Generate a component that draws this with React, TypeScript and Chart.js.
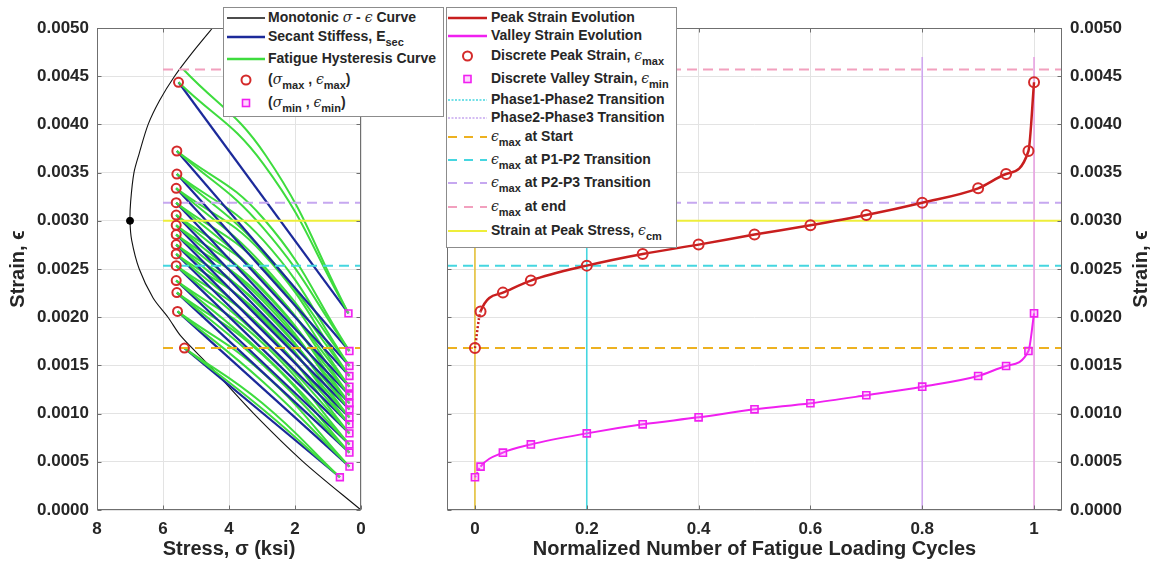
import React, { useEffect, useRef } from "react";
import { Chart, registerables } from "chart.js";
Chart.register(...registerables);

// ---------------- DATA ----------------
const cycleN = [0, 0.01, 0.05, 0.1, 0.2, 0.3, 0.4, 0.5, 0.6, 0.7, 0.8, 0.9, 0.95, 0.99, 1.0];
const peakStrain = [0.00168, 0.00206, 0.002255, 0.00238, 0.002535, 0.002656, 0.002753, 0.002857, 0.002953, 0.00306, 0.003188, 0.003337, 0.003485, 0.003724, 0.004437];
const valleyStrain = [0.00034, 0.00045, 0.000595, 0.00068, 0.000795, 0.000889, 0.000961, 0.001044, 0.001107, 0.00119, 0.001279, 0.00139, 0.001494, 0.001649, 0.00204];
const peakStress = [5.35, 5.56, 5.58, 5.6, 5.6, 5.6, 5.6, 5.6, 5.6, 5.6, 5.6, 5.6, 5.58, 5.58, 5.53];
const valleyStress = [0.64, 0.35, 0.35, 0.35, 0.35, 0.35, 0.35, 0.35, 0.35, 0.35, 0.35, 0.35, 0.35, 0.35, 0.38];
// strain offset of hysteresis branches above the secant chord, at mid-stress
const upperBulge = [0.0001, 0.00016, 0.00018, 0.0002, 0.00022, 0.00023, 0.00024, 0.00025, 0.00026, 0.00027, 0.00028, 0.0003, 0.00031, 0.00034, 0.00037];
const lowerBulge = [0.00004, 0.00007, 0.00008, 0.00009, 0.0001, 0.00011, 0.00012, 0.00013, 0.00014, 0.00015, 0.00016, 0.00018, 0.0002, 0.00024, 0.00035];

const monoStress = [0, 1.75, 3.25, 4.6, 5.45, 5.85, 6.3, 6.72, 6.95, 7.0, 6.98, 6.88, 6.72, 6.45, 6.1, 5.65, 5.1, 4.5, 4.2];
const monoStrain = [0, 0.0005, 0.001, 0.0015, 0.0018, 0.002, 0.0022, 0.0025, 0.0028, 0.003, 0.0032, 0.0035, 0.0037, 0.004, 0.00425, 0.0045, 0.00475, 0.005, 0.00512];

const fcPeak = 7.0;
const epsCm = 0.003;
const epsStart = 0.00168;
const epsP1P2 = 0.002535;
const epsP2P3 = 0.003188;
const epsEnd = 0.00457;
const endApexStress = 5.38;
const transP1P2 = 0.2;
const transP2P3 = 0.8;

const leftRefStress = [6, 0];
const rightRefN = [-0.05, 1.05];
const vertStrain = [0, 0.0047];

const yTickValues = [0, 0.0005, 0.001, 0.0015, 0.002, 0.0025, 0.003, 0.0035, 0.004, 0.0045, 0.005];
const leftXTickValues = [0, 2, 4, 6, 8];
const rightXTickValues = [0, 0.2, 0.4, 0.6, 0.8, 1];

// ---------------- STYLE ----------------
const FONT = '"Liberation Sans", Arial, Helvetica, sans-serif';
const TXT = "#262626";
const GRID = "#e3e3e3";
const RED_LINE = "#c81e1e";
const RED_MK = "#d42a2a";
const MAG = "#f020f0";
const BLUE = "#1c2a9a";
const GREEN = "#3edc3e";
const GOLD = "#edb120";
const CYAN = "#45d6e0";
const LAV = "#c6a8f0";
const PINK = "#f2a0be";
const YEL = "#eeee3a";
const DASH = [10, 6];

const tickFont = { family: FONT, size: 17, weight: "bold" as const };
const titleFont = { family: FONT, size: 20, weight: "bold" as const };

const framePlugin = (rightTitle?: string) => ({
  id: "frame",
  afterDraw(chart: any) {
    const { ctx, chartArea: a, scales } = chart;
    ctx.save();
    ctx.strokeStyle = "#6f6f6f";
    ctx.lineWidth = 1;
    const l = Math.round(a.left) + 0.5, t = Math.round(a.top) + 0.5;
    const r = Math.round(a.right) - 0.5, b = Math.round(a.bottom) - 0.5;
    ctx.strokeRect(l, t, r - l, b - t);
    const L = 4;
    ctx.beginPath();
    scales.y.ticks.forEach((tk: any) => {
      const y = Math.round(scales.y.getPixelForValue(tk.value)) + 0.5;
      ctx.moveTo(l, y); ctx.lineTo(l + L, y);
      ctx.moveTo(r, y); ctx.lineTo(r - L, y);
    });
    scales.x.ticks.forEach((tk: any) => {
      const x = Math.round(scales.x.getPixelForValue(tk.value)) + 0.5;
      ctx.moveTo(x, b); ctx.lineTo(x, b - L);
      ctx.moveTo(x, t); ctx.lineTo(x, t + L);
    });
    ctx.stroke();
    if (rightTitle) {
      ctx.fillStyle = TXT;
      ctx.font = `bold ${titleFont.size}px ${FONT}`;
      ctx.textAlign = "center";
      ctx.textBaseline = "middle";
      ctx.translate(chart.width - 13, (a.top + a.bottom) / 2);
      ctx.rotate(-Math.PI / 2);
      ctx.fillText(rightTitle, 0, 0);
    }
    ctx.restore();
  },
});

const yScale = (position: "left" | "right") => ({
  type: "linear",
  position,
  min: 0,
  max: 0.005,
  afterBuildTicks: (s: any) => { s.ticks = yTickValues.map((v) => ({ value: v })); },
  afterFit: (s: any) => { s.width = position === "left" ? 97 : 92; },
  grid: { color: GRID, drawTicks: false },
  border: { display: false },
  ticks: { font: tickFont, color: TXT, padding: 8, autoSkip: false, callback: (v: any) => Number(v).toFixed(4) },
  title: position === "left"
    ? { display: true, text: "Strain, ϵ", font: titleFont, color: TXT, padding: { top: 6, bottom: 0 } }
    : { display: false },
});

const xScale = (min: number, max: number, ticks: number[], title: string, reverse: boolean) => ({
  type: "linear",
  min,
  max,
  reverse,
  afterBuildTicks: (s: any) => { s.ticks = ticks.map((v) => ({ value: v })); },
  afterFit: (s: any) => { s.height = 54; },
  grid: { color: GRID, drawTicks: false },
  border: { display: false },
  ticks: { font: tickFont, color: TXT, padding: 9, maxRotation: 0, autoSkip: false, callback: (v: any) => String(Number(v)) },
  title: { display: true, text: title, font: titleFont, color: TXT, padding: { top: 0, bottom: 3 } },
});

const pts = (xs: number[], ys: number[]) => xs.map((x, i) => ({ x, y: ys[i] }));

const lineDs = (data: any[], color: string, width: number, order: number, extra: any = {}) => ({
  data, showLine: true, borderColor: color, borderWidth: width, pointRadius: 0, order, ...extra,
});

function buildLeft() {
  const ds: any[] = [];
  ds.push({
    data: pts(peakStress, peakStrain), showLine: false, pointStyle: "circle", pointRadius: 4.5,
    pointBorderWidth: 2, pointBorderColor: RED_MK, pointBackgroundColor: "rgba(0,0,0,0)", order: 0,
  });
  ds.push({
    data: pts(valleyStress, valleyStrain), showLine: false, pointStyle: "rect", pointRadius: 4.8,
    pointBorderWidth: 1.6, pointBorderColor: MAG, pointBackgroundColor: "rgba(255,120,255,0.25)", order: 0,
  });
  ds.push({
    data: [{ x: fcPeak, y: epsCm }], showLine: false, pointRadius: 3.5,
    pointBorderColor: "#000", pointBackgroundColor: "#000", order: 1,
  });
  const refs: [number, string, number[] | undefined][] = [
    [epsCm, YEL, undefined], [epsStart, GOLD, DASH], [epsP1P2, CYAN, DASH], [epsP2P3, LAV, DASH], [epsEnd, PINK, DASH],
  ];
  refs.forEach(([e, c, d]) => {
    ds.push(lineDs(leftRefStress.map((s) => ({ x: s, y: e })), c, 2, 2, d ? { borderDash: d } : {}));
  });
  cycleN.forEach((_, i) => {
    const p = { x: peakStress[i], y: peakStrain[i] };
    const v = { x: valleyStress[i], y: valleyStrain[i] };
    const isLast = i === cycleN.length - 1;
    const a = isLast ? { x: endApexStress, y: epsEnd } : p;
    const midL = { x: (p.x + v.x) / 2, y: (p.y + v.y) / 2 + lowerBulge[i] };
    const midU = { x: (a.x + v.x) / 2, y: (a.y + v.y) / 2 + upperBulge[i] };
    ds.push(lineDs([p, v], BLUE, 2.2, 60 - 3 * i));
    ds.push(lineDs([p, midL, v], GREEN, 2, 59 - 3 * i, { tension: 0.45 }));
    ds.push(lineDs([a, midU, v], GREEN, 2, 58 - 3 * i, { tension: 0.45 }));
  });
  ds.push(lineDs(pts(monoStress, monoStrain), "#111", 1.1, 100, { tension: 0.3 }));
  return {
    type: "scatter",
    data: { datasets: ds },
    options: {
      responsive: false,
      animation: false,
      events: [],
      layout: { padding: { left: 0, right: 19, top: 28, bottom: 0 } },
      plugins: { legend: { display: false }, tooltip: { enabled: false } },
      scales: {
        x: xScale(0, 8, leftXTickValues, "Stress, σ (ksi)", true),
        y: yScale("left"),
      },
    },
    plugins: [framePlugin()],
  };
}

function buildRight() {
  const ds: any[] = [];
  ds.push({
    data: pts(cycleN, peakStrain), showLine: false, pointStyle: "circle", pointRadius: 5,
    pointBorderWidth: 2, pointBorderColor: RED_MK, pointBackgroundColor: "rgba(0,0,0,0)", order: 0,
  });
  ds.push({
    data: pts(cycleN, valleyStrain), showLine: false, pointStyle: "rect", pointRadius: 5,
    pointBorderWidth: 1.6, pointBorderColor: MAG, pointBackgroundColor: "rgba(255,120,255,0.3)", order: 0,
  });
  const firstDotted = { borderDash: (c: any) => (c.p0DataIndex === 0 ? [2, 2] : undefined) };
  ds.push(lineDs(pts(cycleN, peakStrain), RED_LINE, 2.5, 1, { cubicInterpolationMode: "monotone", segment: firstDotted }));
  ds.push(lineDs(pts(cycleN, valleyStrain), MAG, 2, 1, { cubicInterpolationMode: "monotone", segment: firstDotted }));
  const refs: [number, string, number[] | undefined][] = [
    [epsCm, YEL, undefined], [epsStart, GOLD, DASH], [epsP1P2, CYAN, DASH], [epsP2P3, LAV, DASH], [epsEnd, PINK, DASH],
  ];
  refs.forEach(([e, c, d]) => {
    ds.push(lineDs(rightRefN.map((n) => ({ x: n, y: e })), c, 2, 2, d ? { borderDash: d } : {}));
  });
  const verts: [number, string][] = [[0, "#e6c23a"], [transP1P2, CYAN], [transP2P3, "#cfa6ee"], [1, "#e8a2e2"]];
  verts.forEach(([n, c]) => {
    ds.push(lineDs(vertStrain.map((e) => ({ x: n, y: e })), c, 1.6, 3));
  });
  return {
    type: "scatter",
    data: { datasets: ds },
    options: {
      responsive: false,
      animation: false,
      events: [],
      layout: { padding: { left: 6, right: 0, top: 28, bottom: 0 } },
      plugins: { legend: { display: false }, tooltip: { enabled: false } },
      scales: {
        x: xScale(-0.05, 1.05, rightXTickValues, "Normalized Number of Fatigue Loading Cycles", false),
        y: yScale("right"),
      },
    },
    plugins: [framePlugin("Strain, ϵ")],
  };
}

function ChartBox({ left, width, build }: { left: number; width: number; build: () => any }) {
  const ref = useRef<HTMLCanvasElement>(null);
  useEffect(() => {
    const c = new Chart(ref.current as HTMLCanvasElement, build());
    return () => c.destroy();
  }, []);
  return (
    <canvas ref={ref} width={width} height={564}
      style={{ position: "absolute", left, top: 0, width, height: 564, display: "block" }} />
  );
}

// ---------------- LEGENDS ----------------
const Gk = ({ c }: { c: string }) => (
  <span style={{ fontStyle: "italic", fontWeight: "normal", fontFamily: '"DejaVu Serif", serif' }}>{c}</span>
);
const Sub = ({ children }: { children: any }) => (
  <span style={{ fontSize: 11, position: "relative", top: 5 }}>{children}</span>
);

type Sample =
  | { kind: "line"; color: string; width: number; dash?: string }
  | { kind: "circle"; color: string }
  | { kind: "square"; color: string };

type Row = { y: number; sample: Sample; text: any };

const leftRows: Row[] = [
  { y: 18, sample: { kind: "line", color: "#111", width: 1.3 }, text: <>Monotonic <Gk c="σ" /> - <Gk c="ϵ" /> Curve</> },
  { y: 37, sample: { kind: "line", color: BLUE, width: 2.5 }, text: <>Secant Stiffess, E<Sub>sec</Sub></> },
  { y: 59, sample: { kind: "line", color: GREEN, width: 2.5 }, text: <>Fatigue Hysteresis Curve</> },
  { y: 80, sample: { kind: "circle", color: RED_MK }, text: <>(<Gk c="σ" /><Sub>max</Sub> , <Gk c="ϵ" /><Sub>max</Sub>)</> },
  { y: 103, sample: { kind: "square", color: MAG }, text: <>(<Gk c="σ" /><Sub>min</Sub> , <Gk c="ϵ" /><Sub>min</Sub>)</> },
];

const rightRows: Row[] = [
  { y: 18, sample: { kind: "line", color: RED_LINE, width: 2.5 }, text: <>Peak Strain Evolution</> },
  { y: 36, sample: { kind: "line", color: MAG, width: 2.5 }, text: <>Valley Strain Evolution</> },
  { y: 56, sample: { kind: "circle", color: RED_MK }, text: <>Discrete Peak Strain, <Gk c="ϵ" /><Sub>max</Sub></> },
  { y: 79, sample: { kind: "square", color: MAG }, text: <>Discrete Valley Strain, <Gk c="ϵ" /><Sub>min</Sub></> },
  { y: 100, sample: { kind: "line", color: CYAN, width: 1.5, dash: "2 1.5" }, text: <>Phase1-Phase2 Transition</> },
  { y: 118, sample: { kind: "line", color: LAV, width: 1.5, dash: "2 1.5" }, text: <>Phase2-Phase3 Transition</> },
  { y: 137, sample: { kind: "line", color: GOLD, width: 2, dash: "9 7" }, text: <><Gk c="ϵ" /><Sub>max</Sub> at Start</> },
  { y: 160, sample: { kind: "line", color: CYAN, width: 2, dash: "9 7" }, text: <><Gk c="ϵ" /><Sub>max</Sub> at P1-P2 Transition</> },
  { y: 183, sample: { kind: "line", color: LAV, width: 2, dash: "9 7" }, text: <><Gk c="ϵ" /><Sub>max</Sub> at P2-P3 Transition</> },
  { y: 207, sample: { kind: "line", color: PINK, width: 2, dash: "9 7" }, text: <><Gk c="ϵ" /><Sub>max</Sub> at end</> },
  { y: 231, sample: { kind: "line", color: YEL, width: 2 }, text: <>Strain at Peak Stress, <Gk c="ϵ" /><Sub>cm</Sub></> },
];

function Legend({ box, rows, sx0, sx1, tx }: { box: [number, number, number, number]; rows: Row[]; sx0: number; sx1: number; tx: number }) {
  const [bx, by, bw, bh] = box;
  const mx = (sx0 + sx1) / 2;
  return (
    <>
      <div style={{ position: "absolute", left: bx, top: by, width: bw, height: bh, background: "#fff", border: "1px solid #8c8c8c", boxSizing: "border-box" }} />
      <svg width={1154} height={564} style={{ position: "absolute", left: 0, top: 0, pointerEvents: "none" }}>
        {rows.map((r, i) => {
          const s = r.sample;
          if (s.kind === "line")
            return <line key={i} x1={sx0} x2={sx1} y1={r.y} y2={r.y} stroke={s.color} strokeWidth={s.width} strokeDasharray={s.dash} />;
          if (s.kind === "circle")
            return <circle key={i} cx={mx} cy={r.y} r={4.5} fill="none" stroke={s.color} strokeWidth={2} />;
          return <rect key={i} x={mx - 3.5} y={r.y - 3.5} width={7} height={7} fill="rgba(255,120,255,0.3)" stroke={s.color} strokeWidth={1.6} />;
        })}
      </svg>
      {rows.map((r, i) => (
        <div key={i} style={{ position: "absolute", left: tx, top: r.y - 9, lineHeight: "18px", height: 18, whiteSpace: "nowrap", font: `bold 14px ${FONT}`, color: TXT }}>
          {r.text}
        </div>
      ))}
    </>
  );
}

export default function App() {
  return (
    <div style={{ position: "absolute", left: 0, top: 0, width: 1154, height: 564, background: "#fff", overflow: "hidden" }}>
      <ChartBox left={0} width={380} build={buildLeft} />
      <ChartBox left={440} width={714} build={buildRight} />
      <Legend box={[223, 7, 221, 110]} rows={leftRows} sx0={227} sx1={265} tx={268} />
      <Legend box={[446, 7, 231, 241]} rows={rightRows} sx0={448} sx1={487} tx={491} />
    </div>
  );
}
